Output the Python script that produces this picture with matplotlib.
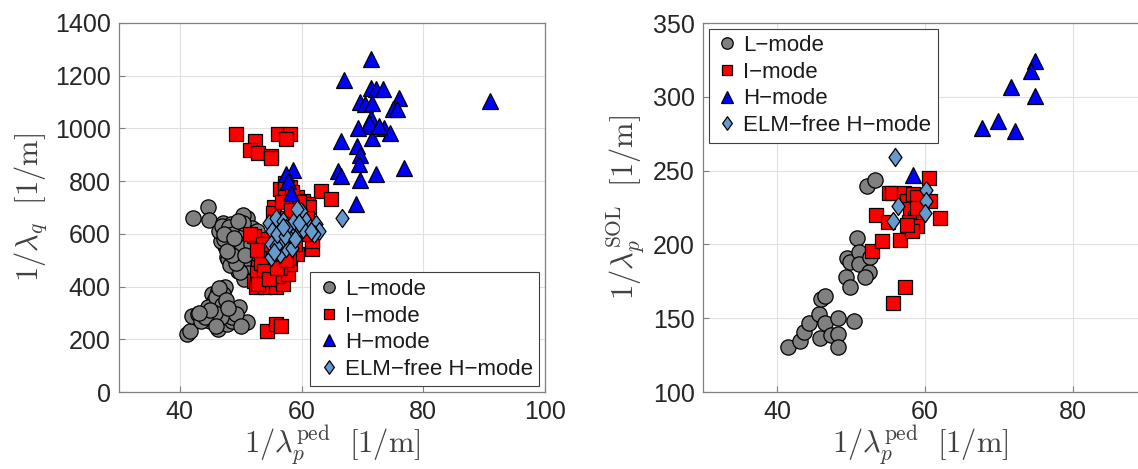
import numpy as np
import matplotlib
matplotlib.use("Agg")
import matplotlib.pyplot as plt
from matplotlib.path import Path

plt.rcParams['font.family'] = ['Liberation Sans', 'DejaVu Sans']
plt.rcParams['mathtext.fontset'] = 'cm'

# ---- left panel: 1/lambda_q vs 1/lambda_p^ped ----
L_x = [42.2, 44.7, 44.8, 47.1, 48.4, 49.5, 51.0, 50.3, 47.1, 48.0, 49.7, 47.4, 48.9, 47.7,
       49.1, 50.4, 49.7, 51.0, 51.0, 51.6, 52.2, 48.6, 46.8, 49.2, 50.1, 51.9, 52.2, 51.3,
       47.6, 48.2, 49.0, 50.0, 50.8, 48.8, 47.9, 46.5, 50.5, 51.5, 49.5, 48.3,
       46.9, 47.3, 48.1, 48.7, 49.4, 50.2, 50.9, 51.7, 52.4, 52.8, 51.2, 50.6, 49.9, 49.3,
       48.5, 47.8, 47.2, 48.9, 50.3, 51.8, 52.6, 53.0, 50.7, 49.6,
       41.2, 41.6, 42.0, 42.9, 43.8, 45.0, 45.3, 46.2, 47.4, 47.1, 47.1, 46.2, 47.7, 48.6,
       49.8, 51.0, 46.2, 48.0, 45.0, 48.6, 43.5, 45.6, 44.7, 46.8, 49.2, 50.1, 46.0, 46.9,
       45.8, 44.2, 46.5, 47.6, 45.9, 44.9, 47.9, 43.2]
L_y = [662, 700, 652, 643, 637, 640, 662, 671, 599, 612, 599, 555, 549, 511,
       511, 498, 473, 486, 435, 523, 549, 574, 574, 574, 523, 624, 586, 473,
       620, 590, 560, 540, 455, 530, 505, 610, 600, 500, 460, 480,
       630, 580, 625, 600, 570, 545, 610, 560, 520, 480, 450, 430, 455, 490,
       520, 535, 600, 585, 640, 595, 610, 500, 520, 650,
       221, 233, 290, 296, 290, 296, 372, 385, 397, 372, 340, 240, 259, 271,
       322, 265, 322, 296, 271, 284, 271, 347, 322, 284, 296, 252, 360, 330,
       300, 285, 395, 350, 250, 310, 320, 300]

I_x = [49.2, 52.4, 51.6, 52.9, 54.9, 54.9, 56.2, 58.1, 57.5, 56.4, 55.5, 63.2, 64.8, 57.3,
       58.1, 59.3, 60.2, 61.1, 52.2, 51.6, 53.4, 52.8, 52.2, 52.5, 54.0, 54.0, 55.8, 57.0,
       56.1, 57.8, 58.1, 59.3, 61.7, 61.7, 60.8, 54.3, 55.8, 56.7, 53.4, 54.9, 56.7, 57.5,
       58.4, 55.8, 57.2, 58.8, 59.8, 60.5, 56.5, 53.0, 55.2, 57.9, 59.0, 61.2, 52.6, 54.5,
       53.3, 53.8, 52.9, 54.6, 56.0, 57.4, 58.5, 59.6, 60.9, 55.3, 56.8, 58.2, 53.6, 52.7]
I_y = [977, 952, 920, 908, 895, 886, 977, 977, 958, 769, 700, 763, 731, 794,
       776, 738, 725, 712, 593, 599, 511, 473, 422, 397, 422, 397, 397, 410,
       441, 448, 486, 523, 542, 574, 599, 233, 259, 252, 448, 523, 599, 662,
       712, 612, 740, 700, 680, 640, 470, 540, 470, 510, 560, 700, 450, 580,
       490, 460, 410, 430, 470, 500, 760, 720, 660, 680, 720, 690, 560, 540]

H_x = [71.4, 67.0, 71.4, 72.3, 73.4, 76.0, 69.6, 70.4, 71.5, 75.1, 75.6, 91.0, 71.4, 70.9,
       69.3, 73.5, 74.6, 71.6, 66.4, 69.1, 69.6, 69.5, 66.0, 66.4, 72.2, 76.9, 69.6, 68.9,
       58.6, 57.5, 57.8, 58.3, 71.0, 72.8]
H_y = [1262, 1182, 1154, 1150, 1150, 1116, 1100, 1092, 1097, 1072, 1072, 1104, 1040, 1009,
       1000, 1000, 983, 962, 952, 933, 901, 864, 838, 819, 826, 848, 806, 712,
       841, 826, 800, 756, 1020, 1010]

E_x = [54.7, 55.8, 57.0, 55.2, 54.9, 55.0, 56.4, 57.5, 58.4, 58.1, 59.3, 59.9, 59.9, 60.8,
       61.4, 62.3, 62.9, 58.7, 57.5, 56.7, 55.8, 66.7, 59.3, 62.0,
       56.0, 57.2, 58.9, 60.2, 61.6, 55.5, 56.9, 59.6]
E_y = [643, 662, 649, 612, 561, 511, 523, 548, 548, 599, 612, 662, 687, 649,
       624, 637, 612, 649, 624, 574, 555, 662, 693, 599,
       600, 590, 580, 620, 610, 530, 625, 640]

# ---- right panel: 1/lambda_p^SOL vs 1/lambda_p^ped ----
L2_x = [41.5, 43.1, 43.6, 44.3, 45.7, 45.8, 46.5, 47.3, 48.2, 48.3, 48.2, 50.4, 45.9, 46.5,
        49.3, 49.9, 49.4, 49.8, 50.8, 51.1, 51.1, 52.4, 51.9, 52.6, 52.1, 53.3]
L2_y = [130.4, 134.5, 140.5, 146.8, 152.9, 136.5, 146.8, 138.7, 139.4, 130.4, 150.0, 148.4,
        163.0, 165.3, 177.7, 171.4, 190.8, 187.8, 204.0, 194.6, 186.7, 181.0, 177.7, 191.2,
        239.6, 243.5]

I2_x = [52.9, 53.4, 54.2, 55.1, 55.5, 55.0, 55.7, 57.3, 56.6, 57.1, 57.5, 58.4, 58.9, 58.0,
        58.7, 57.8, 58.9, 58.2, 60.5, 60.7, 62.0, 57.5, 58.9]
I2_y = [195.3, 219.8, 202.5, 234.5, 234.5, 214.9, 160.1, 170.9, 202.9, 234.5, 229.5, 234.0,
        231.8, 223.9, 218.2, 214.9, 212.6, 208.8, 245.3, 229.5, 218.2, 213.3, 225.0]

H2_x = [74.8, 74.3, 74.8, 71.6, 69.9, 67.7, 72.2, 58.4]
H2_y = [324.5, 317.3, 300.5, 306.5, 283.6, 279.0, 276.8, 247.1]

E2_x = [56.0, 56.4, 55.7, 60.2, 60.2, 60.0]
E2_y = [259.2, 225.7, 216.0, 236.7, 229.5, 221.2]

labels = ['L\u2212mode', 'I\u2212mode', 'H\u2212mode', 'ELM\u2212free H\u2212mode']

diamond = Path([(0, 1), (0.72, 0), (0, -1), (-0.72, 0), (0, 1)],
               [Path.MOVETO, Path.LINETO, Path.LINETO, Path.LINETO, Path.CLOSEPOLY])

styles = [dict(marker='o', ms=11, mfc='#808080'),
          dict(marker='s', ms=9.5, mfc='#ff0000'),
          dict(marker='^', ms=11.5, mfc='#0000ff'),
          dict(marker=diamond, ms=13, mfc='#6699cc')]

fig = plt.figure(figsize=(11.38, 4.69), dpi=100)
ax1 = fig.add_axes([119 / 1138, 77 / 469, 426 / 1138, 369 / 469])
ax2 = fig.add_axes([703 / 1138, 77 / 469, 518 / 1138, 369 / 469])

def panel(ax, data):
    for (x, y), st, lab in zip(data, styles, labels):
        ax.plot(x, y, ls='none', mec='black', mew=0.9, label=lab, **st)
    ax.grid(True, color='#e0e0e0', lw=0.8)
    ax.set_axisbelow(True)
    for s in ax.spines.values():
        s.set_color('#808080')
        s.set_linewidth(0.9)
    ax.tick_params(direction='in', length=4, width=0.8, color='#808080',
                   labelsize=18, labelcolor='#262626', pad=6)

def add_legend(ax, loc):
    leg = ax.legend(loc=loc, fontsize=16, handletextpad=0.15, handlelength=1.1,
                    labelspacing=0.25, borderpad=0.3, borderaxespad=0.25, fancybox=False,
                    framealpha=1, edgecolor='#404040', markerscale=0.75)
    leg.get_frame().set_linewidth(0.8)
    for t in leg.get_texts():
        t.set_color('#1a1a1a')

panel(ax1, [(L_x, L_y), (I_x, I_y), (H_x, H_y), (E_x, E_y)])
ax1.set_xlim(30, 100)
ax1.set_ylim(0, 1400)
ax1.set_xticks([40, 60, 80, 100])
ax1.set_yticks(range(0, 1401, 200))
ax1.set_xlabel(r'$1/\lambda_p^{\rm ped}\ \ [1/\rm m]$', fontsize=22, color='#404040')
ax1.xaxis.set_label_coords(0.5, -0.085, transform=ax1.transAxes)
ax1.set_ylabel(r'$1/\lambda_q\ \ [1/\rm m]$', fontsize=22, color='#404040', labelpad=4)
add_legend(ax1, 'lower right')

panel(ax2, [(L2_x, L2_y), (I2_x, I2_y), (H2_x, H2_y), (E2_x, E2_y)])
ax2.set_xlim(30, 100)
ax2.set_ylim(100, 350)
ax2.set_xticks([40, 60, 80])
ax2.set_yticks(range(100, 351, 50))
ax2.set_xlabel(r'$1/\lambda_p^{\rm ped}\ \ [1/\rm m]$', fontsize=22, color='#404040')
ax2.xaxis.set_label_coords(0.42, -0.085, transform=ax2.transAxes)
ax2.set_ylabel(r'$1/\lambda_p^{\rm SOL}\ \ [1/\rm m]$', fontsize=22, color='#404040', labelpad=4)
add_legend(ax2, 'upper left')

fig.savefig('out.png', dpi=100)
